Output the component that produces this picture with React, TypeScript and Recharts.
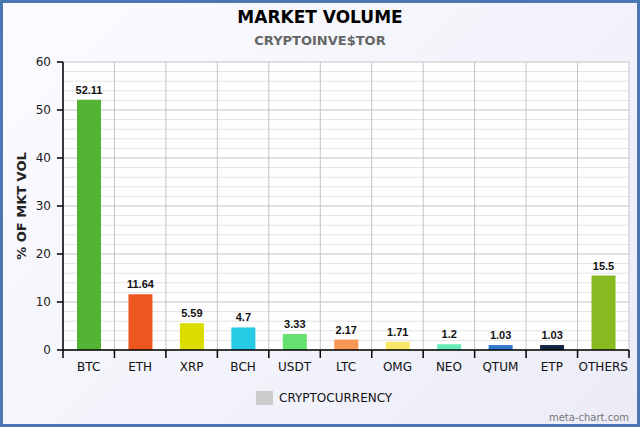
import React from 'react';
import { BarChart, Bar, XAxis, YAxis, CartesianGrid, Cell, LabelList } from 'recharts';

const CATEGORIES = ['BTC', 'ETH', 'XRP', 'BCH', 'USDT', 'LTC', 'OMG', 'NEO', 'QTUM', 'ETP', 'OTHERS'];
const VOLUMES = [52.11, 11.64, 5.59, 4.7, 3.33, 2.17, 1.71, 1.2, 1.03, 1.03, 15.5];
const COLORS = ['#52b335', '#ee561f', '#dcdc00', '#27cbe5', '#66e06e', '#f99856', '#f8e867', '#66eab8', '#2f78d2', '#10253f', '#8aba22'];
const Y_TICKS = [0, 10, 20, 30, 40, 50, 60];
const MINOR_TICKS = [2, 4, 6, 8, 12, 14, 16, 18, 22, 24, 26, 28, 32, 34, 36, 38, 42, 44, 46, 48, 52, 54, 56, 58];

const FONT = '"DejaVu Sans", Verdana, sans-serif';

const chartData = CATEGORIES.map((name, i) => ({ name, value: VOLUMES[i], color: COLORS[i] }));

function CategoryTick(props: any) {
  const { x, y, payload, index } = props;
  const half = payload?.offset || 25.7;
  const last = index === CATEGORIES.length - 1;
  return (
    <g>
      <line x1={x - half} x2={x - half} y1={y} y2={y + 8} stroke="#000" strokeWidth={1.5} />
      {last && <line x1={x + half} x2={x + half} y1={y} y2={y + 8} stroke="#000" strokeWidth={1.5} />}
      <text x={x} y={y + 21} textAnchor="middle" fontFamily={FONT} fontSize={12} fill="#111">
        {payload.value}
      </text>
    </g>
  );
}

// category boundaries, from the plot area the chart hands to the grid
const boundaryLines = ({ offset }: any) => {
  const n = CATEGORIES.length;
  return Array.from({ length: n + 1 }, (_, i) => offset.left + (offset.width * i) / n);
};

export default function App() {
  return (
    <div
      style={{
        position: 'absolute',
        left: 0,
        top: 0,
        width: 640,
        height: 427,
        background: 'linear-gradient(135deg, #fbfbff 0%, #ececf8 100%)',
        fontFamily: FONT,
        overflow: 'hidden',
      }}
    >
      <div style={{ position: 'absolute', top: 7, width: 640, textAlign: 'center', fontWeight: 'bold', fontSize: 17, color: '#000' }}>
        MARKET VOLUME
      </div>
      <div style={{ position: 'absolute', top: 33, width: 640, textAlign: 'center', fontWeight: 'bold', fontSize: 13, color: '#666' }}>
        CRYPTOINVE$TOR
      </div>
      <div
        style={{
          position: 'absolute',
          left: 21,
          top: 206,
          transform: 'translate(-50%, -50%) rotate(-90deg)',
          whiteSpace: 'nowrap',
          fontWeight: 'bold',
          fontSize: 13,
          color: '#222',
        }}
      >
        % OF MKT VOL
      </div>
      <BarChart width={640} height={427} data={chartData} margin={{ top: 62, right: 11, bottom: 47, left: 0 }} barCategoryGap={0}>
        <CartesianGrid fill="#fff" stroke="#e2e2e2" horizontalValues={MINOR_TICKS} vertical={false} />
        <CartesianGrid stroke="#c4c4c4" horizontalValues={Y_TICKS} verticalCoordinatesGenerator={boundaryLines} />
        <YAxis
          width={63}
          domain={[0, 60]}
          ticks={Y_TICKS}
          interval={0}
          tickSize={6}
          tickMargin={6}
          tick={{ fontSize: 12, fill: '#222', fontFamily: FONT }}
          axisLine={{ stroke: '#000', strokeWidth: 1.5 }}
          tickLine={{ stroke: '#000', strokeWidth: 1.5 }}
        />
        <XAxis
          dataKey="name"
          height={30}
          interval={0}
          tickSize={0}
          tickMargin={0}
          tickLine={false}
          axisLine={{ stroke: '#000', strokeWidth: 1.5 }}
          tick={<CategoryTick />}
        />
        <Bar dataKey="value" barSize={24} isAnimationActive={false}>
          {chartData.map((d) => (
            <Cell key={d.name} fill={d.color} />
          ))}
          <LabelList
            dataKey="value"
            position="top"
            offset={6}
            style={{ fontFamily: '"Liberation Sans", Arial, sans-serif', fontWeight: 'bold', fontSize: 11, fill: '#111' }}
          />
        </Bar>
      </BarChart>
      <div style={{ position: 'absolute', left: 256, top: 391, width: 17, height: 14, background: '#cccccc' }} />
      <div style={{ position: 'absolute', left: 279, top: 390, fontSize: 12, color: '#111', lineHeight: '16px' }}>CRYPTOCURRENCY</div>
      <div style={{ position: 'absolute', right: 11, top: 411, fontSize: 10, color: '#777', lineHeight: '14px' }}>meta-chart.com</div>
      <div
        style={{
          position: 'absolute',
          left: 0,
          top: 0,
          width: 640,
          height: 427,
          boxSizing: 'border-box',
          border: '3px solid #4a78b3',
          pointerEvents: 'none',
        }}
      />
    </div>
  );
}
